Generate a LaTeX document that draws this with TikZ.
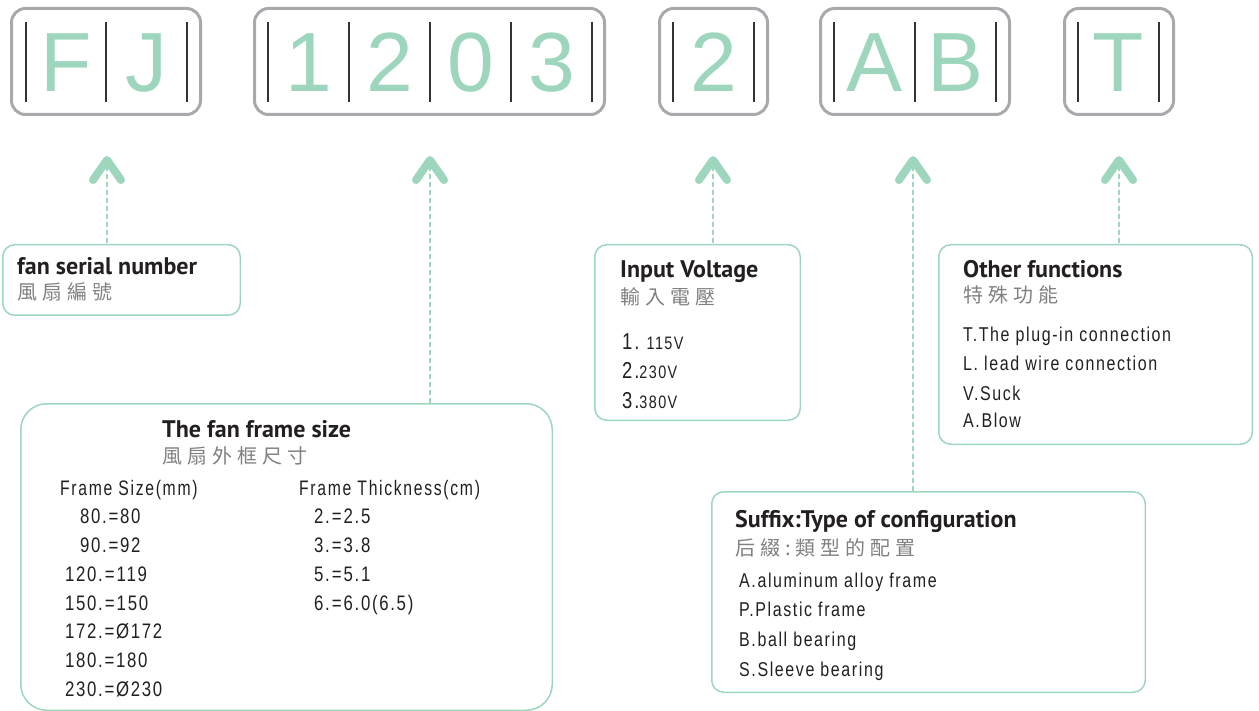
\documentclass[tikz,border=0pt]{standalone}
\usepackage{fontspec}
\setmainfont{Liberation Sans}
\newfontfamily\digitf{Liberation Sans}
\newfontfamily\bodyf[FakeStretch=0.8, LetterSpace=8]{Liberation Sans}
\newfontfamily\framef[FakeStretch=0.75, LetterSpace=8]{Liberation Sans}
\newfontfamily\framerowf[FakeStretch=0.8, LetterSpace=8]{Liberation Sans}
\newfontfamily\titlef{PT Sans}
\newfontfamily\cjkf[LetterSpace=25]{Noto Sans CJK TC}
\definecolor{mint}{HTML}{9DD6BC}
\definecolor{boxgray}{HTML}{A7A9AC}
\definecolor{ink}{HTML}{231F20}
\definecolor{cjkgray}{HTML}{808080}
\tikzset{
  topbox/.style={draw=boxgray, line width=3pt, rounded corners=14pt, inner sep=0pt},
  infobox/.style={draw=mint, line width=1.5pt, rounded corners=12pt, inner sep=0pt},
  bigchar/.style={text=mint, font=\digitf\fontsize{84}{84}\selectfont, anchor=base, inner sep=0pt},
  divider/.style={line width=1.3pt, draw=black!80},
  chev/.style={draw=mint, line width=8pt, line cap=round, line join=round},
  leader/.style={draw=mint, line width=2.5pt, dash pattern=on 5pt off 3pt},
  titletext/.style={font=\titlef\bfseries\fontsize{24}{24}\selectfont, text=ink, anchor=base west, inner sep=0pt},
  cjktext/.style={font=\cjkf\fontsize{20}{20}\selectfont, text=cjkgray, anchor=base west, inner sep=0pt},
  itemtext/.style={font=\bodyf\fontsize{20}{20}\selectfont, text=ink, anchor=base west, inner sep=0pt},
  frametext/.style={font=\framef\fontsize{21}{21}\selectfont, text=ink, anchor=base west, inner sep=0pt},
  rowtext/.style={font=\framerowf\fontsize{21}{21}\selectfont, text=ink, anchor=base west, inner sep=0pt},
  volttext/.style={font=\bodyf\fontsize{18}{18}\selectfont, text=ink, anchor=base west, inner sep=0pt},
}
\newcommand{\bigd}[1]{{\fontsize{23}{23}\selectfont #1}}
\newcommand{\wideeq}{\kern2pt=\kern2pt}
\begin{document}
\begin{tikzpicture}[x=1pt,y=-1pt]
\path[use as bounding box] (0,0) rectangle (1259,711);
% top code boxes
\node[topbox, minimum width=189, minimum height=106] (b1) at (106,61.5) {};
\node[topbox, minimum width=350, minimum height=106] (b2) at (429.5,61.5) {};
\node[topbox, minimum width=108, minimum height=106] (b3) at (713.5,61.5) {};
\node[topbox, minimum width=189, minimum height=106] (b4) at (915,61.5) {};
\node[topbox, minimum width=109, minimum height=106] (b5) at (1119,61.5) {};
\foreach \x in {26,106,187,268,349,430,511,592,673,754,834,915,996,1078,1159}
  \draw[divider] (\x,22) -- (\x,102);
\node[bigchar] (lF) at (66,92) {F};
\node[bigchar] (lJ) at (146.5,92) {J};
\node[bigchar] (l1) at (309,92) {1};
\node[bigchar] (l2) at (390,92) {2};
\node[bigchar] (l0) at (470.5,92) {0};
\node[bigchar] (l3) at (551.5,92) {3};
\node[bigchar] (v2) at (713.5,92) {2};
\node[bigchar] (lA) at (874.5,92) {A};
\node[bigchar] (lB) at (955.5,92) {B};
\node[bigchar] (lT) at (1118.5,92) {T};
% info boxes
\node[infobox, minimum width=237.5, minimum height=70.5] (fsn) at (121.5,280) {};
\node[infobox, rounded corners=26pt, minimum width=531.5, minimum height=306.5] (frame) at (286.5,557) {};
\node[infobox, minimum width=205.5, minimum height=175.5] (volt) at (697.5,332.5) {};
\node[infobox, minimum width=313.5, minimum height=199.5] (other) at (1095.5,344.5) {};
\node[infobox, minimum width=433.5, minimum height=200.5] (suffix) at (928.5,592) {};
% chevrons and leaders
\foreach \n/\x in {c1/107,c2/430,c3/713,c4/913,c5/1119}{
  \coordinate (\n) at (\x,166);
  \draw[chev] (\x-14,180) -- (\x,160) -- (\x+14,180);
}
\draw[leader] (c1) -- (c1 |- fsn.north);
\draw[leader] (c2) -- (c2 |- frame.north);
\draw[leader] (c3) -- (c3 |- volt.north);
\draw[leader] (c4) -- (c4 |- suffix.north);
\draw[leader] (c5) -- (c5 |- other.north);
% fan serial number
\node[titletext] (t1) at (17,275) {fan serial number};
\node[cjktext] (k1) at (17,300) {風扇編號};
% input voltage
\node[titletext] (t3) at (620,278) {Input Voltage};
\node[cjktext] (k3) at (620,305) {輸入電壓};
\node[volttext] (v1) at (622,350) {\bigd{1.} 115V};
\node[volttext] (v2t) at (622,378) {\bigd{2.}230V};
\node[volttext] (v3) at (622,408) {\bigd{3.}380V};
% other functions
\node[titletext] (t5) at (963,278) {Other functions};
\node[cjktext] (k5) at (963,303) {特殊功能};
\node[itemtext] (o1) at (963,342) {T.The plug-in connection};
\node[itemtext] (o2) at (963,371) {L. lead wire connection};
\node[itemtext] (o3) at (963,400) {V.Suck};
\node[itemtext] (o4) at (963,428) {A.Blow};
% frame size
\node[titletext] (t2) at (162,437) {The fan frame size};
\node[cjktext] (k2) at (162,463) {風扇外框尺寸};
\node[frametext] (fh1) at (60,495) {Frame Size(mm)};
\node[frametext] (fh2) at (299,495) {Frame Thickness(cm)};
\node[rowtext] (f1) at (80,523) {80.=80};
\node[rowtext] (f2) at (80,552) {90.=92};
\node[rowtext] (f3) at (65,581) {120.\wideeq 119};
\node[rowtext] (f4) at (65,610) {150.\wideeq 150};
\node[rowtext] (f5) at (65,638) {172.=Ø172};
\node[rowtext] (f6) at (65,667) {180.=180};
\node[rowtext] (f7) at (65,696) {230.=Ø230};
\node[rowtext] (g1) at (314,523) {2.\wideeq 2.5};
\node[rowtext] (g2) at (314,552) {3.\wideeq 3.8};
\node[rowtext] (g3) at (314,581) {5.\wideeq 5.1};
\node[rowtext] (g4) at (314,610) {6.\wideeq 6.0(6.5)};
% suffix
\node[titletext] (t4) at (735,527) {Suffix:Type of configuration};
\node[cjktext] (k4) at (735,555) {后綴:類型的配置};
\node[itemtext] (s1) at (739,587) {A.aluminum alloy frame};
\node[itemtext] (s2) at (739,616) {P.Plastic frame};
\node[itemtext] (s3) at (739,646) {B.ball bearing};
\node[itemtext] (s4) at (739,676) {S.Sleeve bearing};
\end{tikzpicture}
\end{document}
